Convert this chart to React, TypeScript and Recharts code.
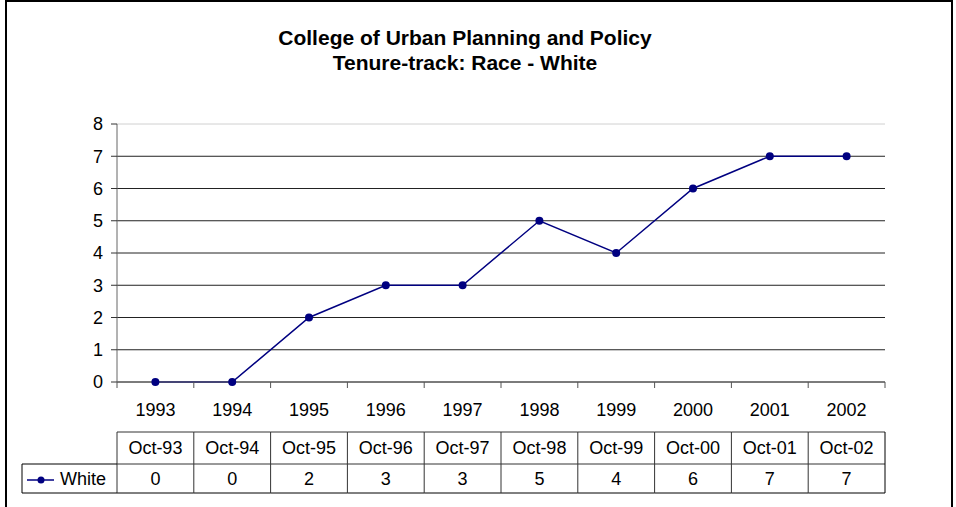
import React from 'react';
import { LineChart, Line, XAxis, YAxis, CartesianGrid, ReferenceLine } from 'recharts';

const years = ['1993', '1994', '1995', '1996', '1997', '1998', '1999', '2000', '2001', '2002'];
const dateLabels = ['Oct-93', 'Oct-94', 'Oct-95', 'Oct-96', 'Oct-97', 'Oct-98', 'Oct-99', 'Oct-00', 'Oct-01', 'Oct-02'];
const whiteValues = [0, 0, 2, 3, 3, 5, 4, 6, 7, 7];
const yTicks = [0, 1, 2, 3, 4, 5, 6, 7, 8];

const data = years.map((year, i) => ({ year, date: dateLabels[i], white: whiteValues[i] }));

const W = 956;
const H = 507;
const PLOT_LEFT = 117;
const PLOT_RIGHT = 885;
const PLOT_TOP = 124;
const PLOT_BOTTOM = 382;
const BAND = (PLOT_RIGHT - PLOT_LEFT) / years.length;
const FONT = '"Liberation Sans", Arial, sans-serif';
const NAVY = '#000080';
const FS = 18;

// year label + data table column drawn under each category
const TableTick = (props: any) => {
  const { x, y, index, payload } = props;
  const left = x - BAND / 2;
  const right = x + BAND / 2;
  const isLast = index === years.length - 1;
  const rowTop = y + 50;
  const rowMid = y + 82;
  const rowBot = y + 111;
  return (
    <g fontFamily={FONT} fontSize={FS} fill="#000">
      <line x1={left} y1={y} x2={left} y2={y + 6} stroke="#555" />
      {isLast && <line x1={right} y1={y} x2={right} y2={y + 6} stroke="#555" />}
      <text x={x} y={y + 34} textAnchor="middle">{payload.value}</text>
      {/* header + value cells */}
      <line x1={left} y1={rowTop} x2={right} y2={rowTop} stroke="#333" />
      <line x1={left} y1={rowMid} x2={right} y2={rowMid} stroke="#333" />
      <line x1={left} y1={rowBot} x2={right} y2={rowBot} stroke="#000" />
      <line x1={left} y1={rowTop} x2={left} y2={rowBot} stroke="#333" />
      {isLast && <line x1={right} y1={rowTop} x2={right} y2={rowBot} stroke="#000" />}
      <text x={x} y={rowTop + 22} textAnchor="middle">{dateLabels[index]}</text>
      <text x={x} y={rowMid + 21} textAnchor="middle">{whiteValues[index]}</text>
      {index === 0 && (
        <g>
          <line x1={22} y1={rowMid} x2={left} y2={rowMid} stroke="#000" />
          <line x1={22} y1={rowMid} x2={22} y2={rowBot} stroke="#000" />
          <line x1={22} y1={rowBot} x2={left} y2={rowBot} stroke="#000" />
          <line x1={27} y1={rowMid + 16} x2={54} y2={rowMid + 16} stroke={NAVY} strokeWidth={1.5} />
          <circle cx={41} cy={rowMid + 16} r={3.5} fill={NAVY} />
          <text x={60} y={rowMid + 21}>White</text>
        </g>
      )}
    </g>
  );
};

export default function App() {
  return (
    <div style={{ position: 'absolute', left: 0, top: 0, width: W, height: H, background: '#fff', overflow: 'hidden' }}>
      <div
        style={{
          position: 'absolute', left: 5, top: 0, width: 948, height: 520,
          border: '2px solid #000', boxSizing: 'border-box'
        }}
      />
      <div
        style={{
          position: 'absolute', left: 215, top: 25, width: 500, textAlign: 'center',
          fontFamily: FONT, fontWeight: 'bold', fontSize: 21, lineHeight: '25px', color: '#000'
        }}
      >
        <div>College of Urban Planning and Policy</div>
        <div>Tenure-track: Race - White</div>
      </div>
      <div style={{ position: 'absolute', left: 0, top: 0 }}>
        <LineChart
          width={W}
          height={H}
          data={data}
          margin={{ top: PLOT_TOP, right: W - PLOT_RIGHT, bottom: H - PLOT_BOTTOM - 30, left: 0 }}
        >
          <CartesianGrid vertical={false} stroke="#222" horizontalValues={[0, 1, 2, 3, 4, 5, 6, 7]} />
          <ReferenceLine y={8} stroke="#d0d0d0" ifOverflow="extendDomain" />
          <XAxis
            dataKey="year"
            height={30}
            padding={{ left: BAND / 2, right: BAND / 2 }}
            tickLine={false}
            tickSize={0}
            tickMargin={0}
            stroke="#666"
            interval={0}
            tick={<TableTick />}
          />
          <YAxis
            width={PLOT_LEFT}
            domain={[0, 8]}
            ticks={yTicks}
            interval={0}
            tickSize={6}
            tickMargin={8}
            stroke="#666"
            tick={{ fill: '#000', fontSize: FS, fontFamily: FONT }}
            tickLine={{ stroke: '#333' }}
          />
          <Line
            type="linear"
            dataKey="white"
            stroke={NAVY}
            strokeWidth={1.5}
            dot={{ r: 4, fill: NAVY, stroke: 'none' }}
            isAnimationActive={false}
          />
        </LineChart>
      </div>
    </div>
  );
}
